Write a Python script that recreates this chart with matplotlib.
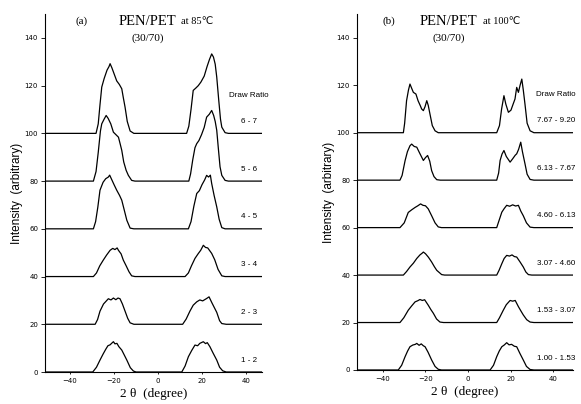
import matplotlib
matplotlib.use('Agg')
import matplotlib.pyplot as plt

# panel (a): PEN/PET at 85C, panel (b): PEN/PET at 100C
baselines = [0, 20, 40, 60, 80, 100]
labels_a = ['1 - 2', '2 - 3', '3 - 4', '4 - 5', '5 - 6', '6 - 7']
labels_b = ['1.00 - 1.53', '1.53 - 3.07', '3.07 - 4.60', '4.60 - 6.13', '6.13 - 7.67', '7.67 - 9.20']
xticks = [-40, -20, 0, 20, 40]
yticks = [0, 20, 40, 60, 80, 100, 120, 140]

# (2theta, intensity above baseline)
a_12 = [(-29.7, 0), (-28, 2), (-26.4, 5), (-25, 7.5), (-23.8, 9.5), (-22.8, 11), (-21.8, 11.4), (-20.9, 12.2),
        (-20.3, 12.7), (-19.6, 11.8), (-18.7, 12), (-17.8, 10.6), (-16.5, 9.2), (-15.4, 7.2), (-14.2, 5),
        (-12.6, 1.8), (-11.2, 0.4), (-10, 0),
        (10.8, 0), (12.3, 2.5), (13.8, 6.4), (15.3, 9), (16.8, 11.3), (18, 11), (19, 12), (20.6, 12.7),
        (21.6, 11.9), (22.4, 12.3), (23.6, 10.6), (25, 8), (26.7, 5), (28, 2), (29.4, 0.5), (31, 0)]
a_23 = [(-28.6, 0), (-27.5, 2), (-26.4, 5.5), (-24.8, 8.5), (-22.6, 10.7), (-21.4, 10.2), (-20.3, 11),
        (-19.2, 10.3), (-18.2, 11), (-17.3, 10.7), (-16.2, 8.5), (-15, 5.5), (-13.8, 2.5), (-12.7, 0.6), (-11, 0),
        (11.2, 0), (12.8, 2.2), (14.5, 5.5), (16, 8), (17.6, 9.4), (19, 10.2), (20.3, 9.8), (22.1, 10.8),
        (23.2, 11.5), (24.5, 9), (25.6, 7), (26.7, 5), (28, 1.5), (29, 0.3), (31, 0)]
a_34 = [(-29.4, 0), (-28, 1.5), (-26.5, 4.5), (-24.9, 6.9), (-23.4, 9), (-21.8, 11), (-20.6, 11.8),
        (-19.6, 11.3), (-18.6, 12), (-18, 11), (-16.8, 9.5), (-15.8, 6.9), (-14.5, 4.5), (-13.2, 2), (-12, 0.3),
        (-10.5, 0),
        (12.3, 0), (13.8, 1.5), (15.2, 4.5), (16.8, 7.6), (18.2, 9.5), (19.4, 11), (20.6, 13.1), (21.6, 12.2),
        (22.6, 12), (24.4, 9.7), (25.8, 7), (27.3, 3), (29, 0.3), (30.5, 0)]
a_45 = [(-29.4, 0), (-28.4, 3), (-27.4, 9), (-26.4, 16.2), (-25, 19.5), (-23.8, 21), (-22.6, 21.7), (-22, 22.5),
        (-21, 20.5), (-20, 18.5), (-18.8, 16.2), (-17.5, 14), (-16.5, 12), (-15.4, 8), (-14.2, 3.6),
        (-12.7, 0.3), (-11, 0),
        (13.8, 0), (15, 3), (16.3, 9.5), (17.6, 14.8), (18.8, 16), (20, 18.5), (21.2, 20.5), (22.1, 22.4),
        (23, 21.7), (23.8, 22.5), (24.4, 19), (25.5, 14), (26.7, 9.2), (27.8, 4), (29, 0.5), (30.5, 0)]
a_56 = [(-29.4, 0), (-28.2, 4), (-27.2, 12), (-26.2, 21), (-25.6, 24), (-24.5, 26), (-23.6, 27.5),
        (-22.7, 26.3), (-21.5, 24), (-20.3, 20.5), (-19.2, 19.5), (-18, 18.4), (-17.2, 15.5), (-16.5, 12.9),
        (-15.6, 8), (-14.5, 4.5), (-13.5, 2.4), (-12, 0.3), (-10.5, 0),
        (14, 0), (14.8, 3), (15.8, 9), (16.8, 14), (17.6, 15.7), (18.6, 17), (19.8, 19.5), (21, 22.5),
        (22.1, 26.8), (23.3, 28), (24.4, 29.6), (25.3, 27.5), (26, 25), (26.7, 21.3), (27.4, 14), (28.2, 6),
        (29, 2.4), (30.5, 0.3), (32, 0)]
a_67 = [(-28.2, 0), (-27.2, 4), (-26.4, 12), (-25.6, 19.4), (-24.5, 23), (-23.2, 26.5), (-22.3, 28),
        (-21.8, 29.2), (-21, 27.5), (-20, 25), (-18.8, 22), (-17.6, 20.5), (-16.5, 18.7), (-15.8, 15),
        (-15, 11), (-14, 5), (-12.7, 1), (-11, 0),
        (13, 0), (14, 3), (15, 10), (16, 18), (17.2, 19), (18.3, 20), (19.5, 21.5), (21, 24), (22.3, 28),
        (23.4, 31), (24.4, 33.3), (25.2, 32), (26, 29), (26.7, 23.6), (27.6, 14), (28.4, 6), (29, 2.6),
        (30.5, 0.3), (32, 0)]

b_1 = [(-32.8, 0), (-31.2, 2), (-29.6, 5.6), (-28.4, 8), (-27.3, 9.8), (-26, 10.5), (-24.8, 10.8), (-24.1, 11.2),
       (-23, 10.4), (-22, 11), (-21, 10.2), (-20.2, 9.8), (-18.8, 7.5), (-17.1, 4.2), (-15.5, 1.5), (-14, 0.3),
       (-12.5, 0),
       (10.4, 0), (12, 2), (13.5, 5.6), (14.7, 8), (15.9, 9.8), (17, 10.5), (18.2, 11.5), (19.3, 10.6),
       (20.5, 10.8), (21.8, 10), (22.9, 9.8), (24.4, 7), (26, 4.2), (27.5, 1.5), (29.2, 0.2), (31, 0)]
b_2 = [(-32, 0), (-30.2, 2), (-28.1, 5.2), (-26.5, 7), (-24.9, 8.7), (-23.6, 9.2), (-22.6, 9.7), (-21.5, 9.3),
       (-20.4, 9.6), (-18.7, 7.3), (-17.5, 5.5), (-16.3, 3.9), (-14.8, 1.5), (-13.2, 0.2), (-11.5, 0),
       (13.5, 0), (14.8, 2), (16.6, 5.2), (18, 7.5), (19.8, 9.3), (21, 9), (22.2, 9.3), (23.7, 6.7), (24.8, 5),
       (26, 3.2), (27.6, 1.2), (29.2, 0.2), (31, 0)]
b_3 = [(-30.4, 0), (-28.9, 1.5), (-27.3, 3.4), (-25.7, 5), (-24.1, 7), (-22.6, 8.5), (-21.6, 9.2), (-21, 9.7),
       (-20, 9), (-18.6, 7.5), (-17.1, 5.5), (-15.8, 3.5), (-14.7, 2), (-12.4, 0.2), (-11, 0),
       (13.5, 0), (14.6, 2), (15.9, 4.8), (17, 7), (18.2, 8.3), (19.5, 8), (20.7, 8.5), (21.8, 7.8), (22.9, 7.6),
       (24.5, 5.5), (26, 3.4), (27.2, 1.3), (28.4, 0.2), (30, 0)]
b_4 = [(-32, 0), (-30, 2), (-28.1, 6.4), (-26.5, 7.5), (-24.9, 8.5), (-23.6, 9.2), (-22.3, 10), (-21.2, 9.4),
       (-20, 9.2), (-18.7, 7.9), (-17.1, 5), (-15.5, 2), (-14, 0.3), (-12.5, 0),
       (13.5, 0), (14.6, 3), (15.9, 6.5), (17, 8), (18.2, 9.4), (19.6, 9), (21, 9.6), (22.4, 9.1), (23.7, 9.4),
       (24.8, 7), (26, 5), (27.5, 2), (29.2, 0.2), (31, 0)]
b_5 = [(-32, 0), (-31, 2), (-29.6, 8.2), (-28.5, 12), (-27.3, 14.5), (-26.5, 15.2), (-25.3, 14.2), (-24.1, 13.9),
       (-22.8, 11.5), (-21, 8.3), (-20, 9.5), (-19, 10.4), (-18, 8), (-17.1, 4), (-16, 1.5), (-14.7, 0.2), (-13, 0),
       (13.5, 0), (14.4, 3), (15.1, 8.3), (16, 11), (16.9, 12.5), (18, 10), (19.8, 7.6), (21, 9), (22.2, 10.5),
       (22.9, 11.1), (23.8, 13), (24.8, 16), (25.6, 12), (26.8, 6.9), (27.8, 2.5), (29.2, 0.3), (31, 0)]
b_6 = [(-30.4, 0), (-29.8, 4), (-28.9, 13.5), (-28, 18), (-27.3, 20.5), (-26.4, 18.5), (-25.7, 17), (-24.5, 16.3),
       (-23.5, 13.5), (-22.5, 11.5), (-21.8, 10), (-21, 9.3), (-20.2, 11), (-19.4, 13.5), (-18.7, 11.5),
       (-17.9, 7.9), (-16.8, 3), (-15.5, 0.8), (-14, 0),
       (13.5, 0), (14.8, 3), (15.8, 10), (16.9, 15.6), (17.8, 12), (19, 8.6), (20.2, 9.5), (21.2, 12), (22.1, 14.2),
       (22.9, 19.1), (23.7, 17), (24.5, 20), (25.3, 22.6), (26, 18), (26.8, 12), (27.8, 4), (29.2, 0.8), (31, 0)]

curves_a = [a_12, a_23, a_34, a_45, a_56, a_67]
curves_b = [b_1, b_2, b_3, b_4, b_5, b_6]

serif = ['Liberation Serif', 'DejaVu Sans']
narrow = ['Liberation Sans', 'DejaVu Sans']

fig = plt.figure(figsize=(5.81, 4.04), dpi=100)
ax_a = fig.add_axes([0.0775, 0.0792, 0.3735, 0.886])
ax_b = fig.add_axes([0.6145, 0.0842, 0.3718, 0.881])


def draw_panel(ax, curves, labels, xlim, tag, temp, tag_x, pen_x, at_x, sub_x):
    for base, pts, lab in zip(baselines, curves, labels):
        xs = [xlim[0]] + [p[0] for p in pts] + [xlim[1]]
        ys = [base] + [base + p[1] for p in pts] + [base]
        ax.plot(xs, ys, color='black', lw=0.9, solid_joinstyle='round')
        ax.text(41.5, base + 5, lab, ha='center', va='center', fontsize=5.8, family=narrow)
    ax.text(41.5, 116, 'Draw Ratio', ha='center', va='center', fontsize=5.8, family=narrow)
    ax.set_xlim(*xlim)
    ax.set_ylim(0, 150)
    for s in ['top', 'right']:
        ax.spines[s].set_visible(False)
    for s in ['left', 'bottom']:
        ax.spines[s].set_linewidth(0.8)
    ax.set_xticks(xticks)
    ax.set_yticks(yticks)
    ax.tick_params(axis='y', direction='out', length=3, width=0.6, labelsize=5, pad=2)
    ax.tick_params(axis='x', direction='out', length=1.5, width=0.6, labelsize=5, pad=3)
    ax.text(tag_x, 147, tag, fontsize=8, family=serif, va='center')
    ax.text(pen_x, 147, 'PEN/PET', fontsize=10.5, family=serif, va='center')
    ax.text(at_x, 147, temp, fontsize=7.5, family=serif, va='center')
    ax.text(sub_x, 140, '(30/70)', fontsize=8, family=serif, va='center', ha='center')
    ax.set_xlabel('2 θ  (degree)', fontsize=9.5, family=serif, labelpad=3)
    ax.set_ylabel('Intensity  (arbitrary)', fontsize=8.5, family=narrow, labelpad=1)


draw_panel(ax_a, curves_a, labels_a, (-51.4, 47.3), '(a)', 'at 85℃', -37.5, -18, 10.5, -4.5)
draw_panel(ax_b, curves_b, labels_b, (-52.2, 49.4), '(b)', 'at 100℃', -40, -22.6, 7, -9)

fig.savefig('out.png', dpi=100)
